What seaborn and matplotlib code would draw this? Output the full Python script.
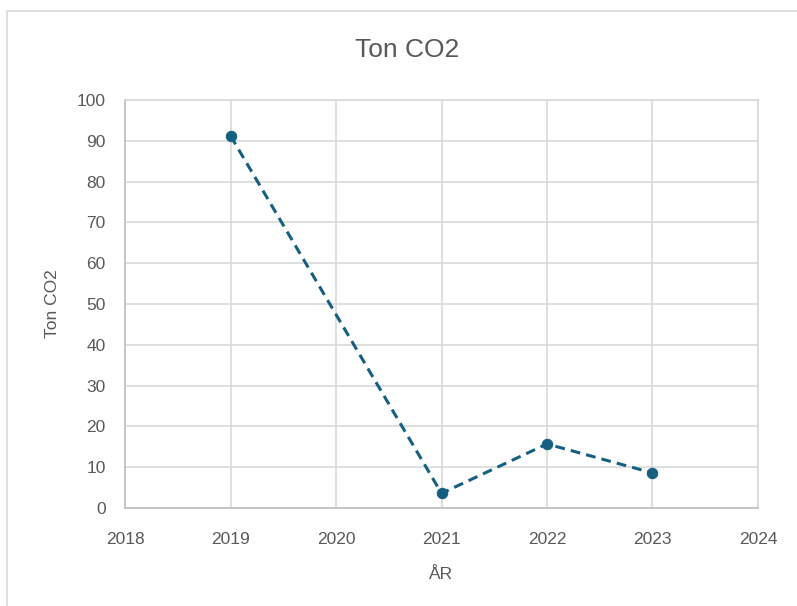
import matplotlib.pyplot as plt
import pandas as pd
import seaborn as sns
from matplotlib.patches import Rectangle

# data
years = [2019, 2021, 2022, 2023]
ton_co2 = [91.2, 3.6, 15.7, 8.6]
x_ticks = [2018, 2019, 2020, 2021, 2022, 2023, 2024]
y_ticks = [0, 10, 20, 30, 40, 50, 60, 70, 80, 90, 100]

df = pd.DataFrame({'year': years, 'value': ton_co2})

sns.set_style('whitegrid')
plt.rcParams['font.family'] = ['Liberation Sans', 'DejaVu Sans']

text_col = '#595959'
grid_col = '#d9d9d9'
line_col = '#156082'

fig = plt.figure(figsize=(7.97, 6.06), dpi=100)
ax = fig.add_axes([0.157, 0.1617, 0.794, 0.6733])

# outer chart border (only left/top visible in the reference)
fig.patches.append(Rectangle((7 / 797, -0.1), 1.2, 1 - 11 / 606 + 0.1,
                             transform=fig.transFigure, fill=False,
                             edgecolor='#d9d9d9', linewidth=1.2))

sns.lineplot(data=df, x='year', y='value', sort=False, ax=ax, color=line_col,
             linewidth=2.2, linestyle=(0, (3.2, 2.0)), marker='o',
             markersize=7.5, markeredgecolor=line_col)

ax.set_xlim(2018, 2024)
ax.set_ylim(0, 100)
ax.set_xticks(x_ticks)
ax.set_yticks(y_ticks)
ax.grid(True, color=grid_col, linewidth=1.2)
for side in ['top', 'right']:
    ax.spines[side].set_color(grid_col)
    ax.spines[side].set_linewidth(1.2)
for side in ['left', 'bottom']:
    ax.spines[side].set_color('#bfbfbf')
    ax.spines[side].set_linewidth(1.2)
ax.tick_params(axis='both', length=0, labelsize=12.5, labelcolor=text_col)
ax.tick_params(axis='x', pad=17)
ax.tick_params(axis='y', pad=14)

ax.set_xlabel('ÅR', fontsize=12.5, color=text_col, labelpad=15)
ax.set_ylabel('Ton CO2', fontsize=12.5, color=text_col, labelpad=12)
fig.text(407 / 797, 1 - 50 / 606, 'Ton CO2', fontsize=19, color=text_col,
         ha='center', va='center')

fig.savefig('out.png', dpi=100)
